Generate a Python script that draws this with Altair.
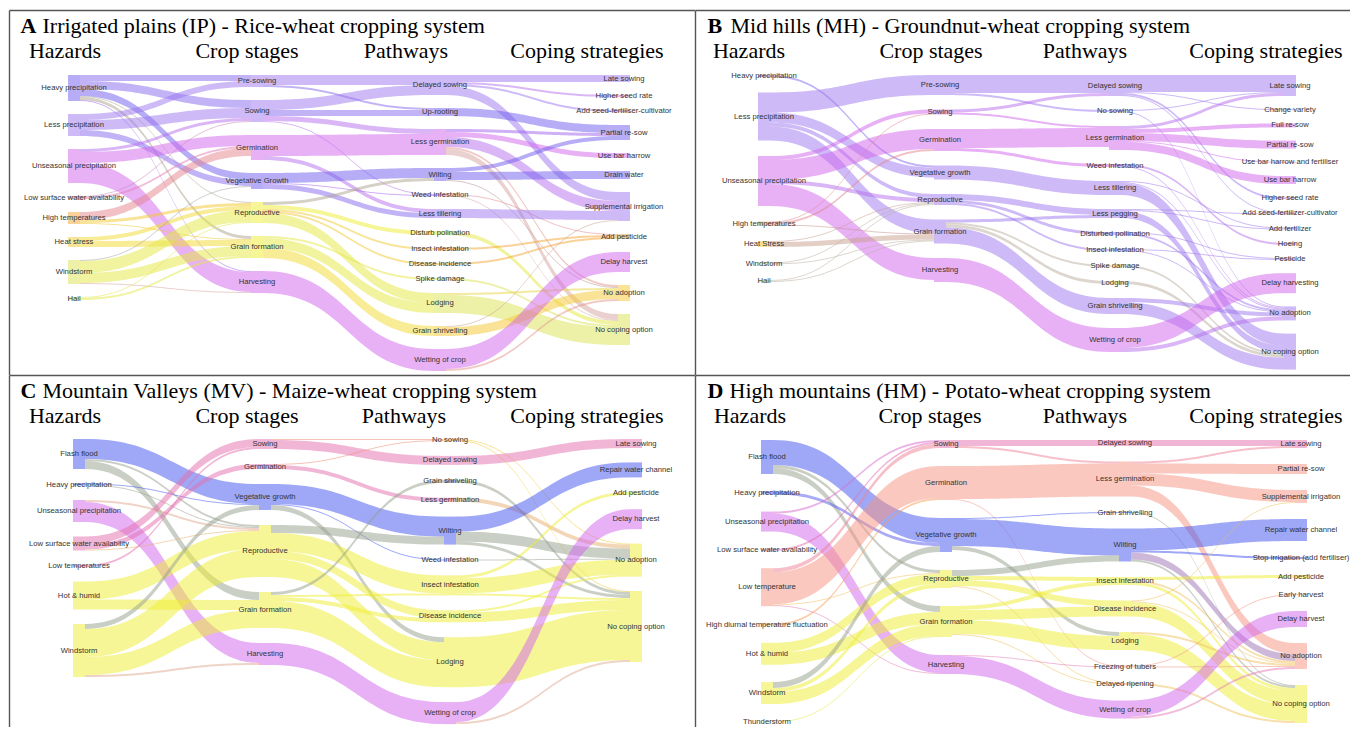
import altair as alt
import pandas as pd
import numpy as np
from collections import defaultdict

PALETTE = {
    "blue": "#4052ed", "bviolet": "#6d5bed", "violet": "#9b76ed", "pviolet": "#d164ed",
    "pink": "#e46ead", "salmon": "#f69280", "orange": "#f6a42e", "gold": "#f6c82e",
    "yellow": "#eded2e", "ygreen": "#dbe452",
}
HEADERS = ["Hazards", "Crop stages", "Pathways", "Coping strategies"]

# ======================= A =======================
A_letter = "A"
A_title = "Irrigated plains (IP) - Rice-wheat cropping system"
A_hazards = ["Heavy precipitation", "Less precipitation", "Unseasonal precipitation",
             "Low surface water availability", "High temperatures", "Heat stress", "Windstorm", "Hail"]
A_hazard_colors = ["bviolet", "violet", "pviolet", "salmon", "orange", "gold", "ygreen", "ygreen"]
A_stages = ["Pre-sowing", "Sowing", "Germination", "Vegetative Growth", "Reproductive",
            "Grain formation", "Harvesting"]
A_stage_colors = ["violet", "violet", "pviolet", "bviolet", "yellow", "yellow", "pviolet"]
A_pathways = ["Delayed sowing", "Up-rooting", "Less germination", "Wilting", "Weed infestation",
              "Less tillering", "Disturb polination", "Insect infestation", "Disease incidence",
              "Spike damage", "Lodging", "Grain shrivelling", "Wetting of crop"]
A_pathway_colors = ["violet", "bviolet", "pviolet", "bviolet", "pviolet", "violet", "yellow",
                    "orange", "orange", "ygreen", "ygreen", "gold", "pviolet"]
A_strategies = ["Late sowing", "Higher seed rate", "Add seed-fertiliser-cultivator", "Partial re-sow",
                "Use bar harrow", "Drain water", "Supplemental irrigation", "Add pesticide",
                "Delay harvest", "No adoption", "No coping option"]
A_strategy_colors = ["violet", "pviolet", "violet", "bviolet", "pviolet", "bviolet", "violet",
                     "orange", "pviolet", "gold", "ygreen"]
A_hazard_stage = [
    ("Heavy precipitation", "Pre-sowing", 6), ("Heavy precipitation", "Sowing", 8),
    ("Heavy precipitation", "Vegetative Growth", 7), ("Heavy precipitation", "Reproductive", 1),
    ("Heavy precipitation", "Grain formation", 3), ("Heavy precipitation", "Harvesting", 1),
    ("Less precipitation", "Pre-sowing", 6), ("Less precipitation", "Sowing", 10),
    ("Less precipitation", "Vegetative Growth", 6),
    ("Unseasonal precipitation", "Sowing", 3), ("Unseasonal precipitation", "Germination", 11),
    ("Unseasonal precipitation", "Harvesting", 20),
    ("Low surface water availability", "Sowing", 1), ("Low surface water availability", "Germination", 2),
    ("High temperatures", "Germination", 8), ("High temperatures", "Reproductive", 3),
    ("High temperatures", "Grain formation", 1),
    ("Heat stress", "Reproductive", 4), ("Heat stress", "Grain formation", 6),
    ("Windstorm", "Vegetative Growth", 1), ("Windstorm", "Reproductive", 12),
    ("Windstorm", "Grain formation", 10), ("Windstorm", "Harvesting", 1),
    ("Hail", "Reproductive", 1), ("Hail", "Grain formation", 2),
]
A_stage_pathway = [
    ("Pre-sowing", "Delayed sowing", 10), ("Pre-sowing", "Up-rooting", 2),
    ("Sowing", "Delayed sowing", 10), ("Sowing", "Up-rooting", 6), ("Sowing", "Less germination", 5),
    ("Sowing", "Weed infestation", 1),
    ("Germination", "Less germination", 21), ("Germination", "Less tillering", 4),
    ("Vegetative Growth", "Wilting", 10), ("Vegetative Growth", "Weed infestation", 1),
    ("Vegetative Growth", "Less tillering", 5),
    ("Reproductive", "Wilting", 3), ("Reproductive", "Disturb polination", 4),
    ("Reproductive", "Insect infestation", 2), ("Reproductive", "Disease incidence", 2),
    ("Reproductive", "Lodging", 10),
    ("Grain formation", "Spike damage", 2), ("Grain formation", "Lodging", 10),
    ("Grain formation", "Grain shrivelling", 10),
    ("Harvesting", "Wetting of crop", 22),
]
A_pathway_strategy = [
    ("Delayed sowing", "Late sowing", 7), ("Delayed sowing", "Higher seed rate", 2),
    ("Delayed sowing", "Add seed-fertiliser-cultivator", 2), ("Delayed sowing", "Supplemental irrigation", 9),
    ("Up-rooting", "Partial re-sow", 8),
    ("Less germination", "Partial re-sow", 3), ("Less germination", "Use bar harrow", 5),
    ("Less germination", "Supplemental irrigation", 10), ("Less germination", "No adoption", 2),
    ("Less germination", "No coping option", 6),
    ("Wilting", "Partial re-sow", 4), ("Wilting", "Drain water", 8), ("Wilting", "No adoption", 1),
    ("Weed infestation", "Add pesticide", 1), ("Weed infestation", "No coping option", 1),
    ("Less tillering", "Supplemental irrigation", 9),
    ("Disturb polination", "No coping option", 4),
    ("Insect infestation", "Add pesticide", 2), ("Disease incidence", "Add pesticide", 2),
    ("Spike damage", "No coping option", 2),
    ("Lodging", "No adoption", 2), ("Lodging", "No coping option", 18),
    ("Grain shrivelling", "Supplemental irrigation", 1), ("Grain shrivelling", "No adoption", 9),
    ("Wetting of crop", "Delay harvest", 20), ("Wetting of crop", "No adoption", 2),
]

# ======================= B =======================
B_letter = "B"
B_title = "Mid hills (MH) - Groundnut-wheat cropping system"
B_hazards = ["Heavy precipitation", "Less precipitation", "Unseasonal precipitation",
             "High temperatures", "Heat Stress", "Windstorm", "Hail"]
B_hazard_colors = ["bviolet", "violet", "pviolet", "orange", "gold", "ygreen", "ygreen"]
B_stages = ["Pre-sowing", "Sowing", "Germination", "Vegetative growth", "Reproductive",
            "Grain formation", "Harvesting"]
B_stage_colors = ["violet", "pviolet", "pviolet", "violet", "violet", "violet", "pviolet"]
B_pathways = ["Delayed sowing", "No sowing", "Less germination", "Weed infestation", "Less tillering",
              "Less pegging", "Disturbed pollination", "Insect infestation", "Spike damage", "Lodging",
              "Grain shrivelling", "Wetting of crop"]
B_pathway_colors = ["violet", "violet", "pviolet", "pviolet", "violet", "violet", "violet", "violet",
                    "ygreen", "ygreen", "violet", "pviolet"]
B_strategies = ["Late sowing", "Change variety", "Full re-sow", "Partial re-sow",
                "Use bar harrow and fertiliser", "Use bar harrow", "Higher seed rate",
                "Add seed-fertilizer-cultivator", "Add fertilizer", "Hoeing", "Pesticide",
                "Delay harvesting", "No adoption", "No coping option"]
B_strategy_colors = ["violet", "violet", "pviolet", "pviolet", "pviolet", "pviolet", "violet", "violet",
                     "violet", "violet", "violet", "pviolet", "violet", "violet"]
B_hazard_stage = [
    ("Heavy precipitation", "Vegetative growth", 2),
    ("Less precipitation", "Pre-sowing", 20), ("Less precipitation", "Vegetative growth", 10),
    ("Less precipitation", "Reproductive", 4), ("Less precipitation", "Grain formation", 14),
    ("Unseasonal precipitation", "Sowing", 4), ("Unseasonal precipitation", "Germination", 20),
    ("Unseasonal precipitation", "Reproductive", 4), ("Unseasonal precipitation", "Harvesting", 22),
    ("High temperatures", "Sowing", 1), ("High temperatures", "Germination", 2),
    ("High temperatures", "Grain formation", 1),
    ("Heat Stress", "Reproductive", 1), ("Heat Stress", "Grain formation", 5),
    ("Windstorm", "Reproductive", 1), ("Windstorm", "Grain formation", 1),
    ("Hail", "Reproductive", 1), ("Hail", "Grain formation", 1),
]
B_stage_pathway = [
    ("Pre-sowing", "Delayed sowing", 18), ("Pre-sowing", "No sowing", 2),
    ("Sowing", "Delayed sowing", 3), ("Sowing", "Less germination", 2),
    ("Germination", "Less germination", 19), ("Germination", "Weed infestation", 3),
    ("Vegetative growth", "Less tillering", 14),
    ("Reproductive", "Less pegging", 6), ("Reproductive", "Disturbed pollination", 3),
    ("Reproductive", "Insect infestation", 2),
    ("Grain formation", "Less pegging", 3), ("Grain formation", "Spike damage", 2),
    ("Grain formation", "Lodging", 3), ("Grain formation", "Grain shrivelling", 16),
    ("Harvesting", "Wetting of crop", 24),
]
B_pathway_strategy = [
    ("Delayed sowing", "Late sowing", 17), ("Delayed sowing", "Change variety", 1),
    ("Delayed sowing", "Higher seed rate", 2), ("Delayed sowing", "Add seed-fertilizer-cultivator", 1),
    ("No sowing", "Late sowing", 1), ("No sowing", "No adoption", 1),
    ("Less germination", "Late sowing", 3), ("Less germination", "Full re-sow", 4),
    ("Less germination", "Partial re-sow", 8), ("Less germination", "Use bar harrow and fertiliser", 1),
    ("Less germination", "Use bar harrow", 8),
    ("Weed infestation", "Hoeing", 2), ("Weed infestation", "No adoption", 1),
    ("Less tillering", "Add fertilizer", 1), ("Less tillering", "No adoption", 1),
    ("Less tillering", "No coping option", 12),
    ("Less pegging", "Add seed-fertilizer-cultivator", 1), ("Less pegging", "Add fertilizer", 1),
    ("Less pegging", "No coping option", 7),
    ("Disturbed pollination", "Pesticide", 1), ("Disturbed pollination", "No adoption", 2),
    ("Insect infestation", "Pesticide", 1), ("Insect infestation", "No adoption", 1),
    ("Spike damage", "No coping option", 2), ("Lodging", "No coping option", 3),
    ("Grain shrivelling", "No adoption", 4), ("Grain shrivelling", "No coping option", 12),
    ("Wetting of crop", "Delay harvesting", 20), ("Wetting of crop", "No adoption", 4),
]

# ======================= C =======================
C_letter = "C"
C_title = "Mountain Valleys (MV) - Maize-wheat cropping system"
C_hazards = ["Flash flood", "Heavy precipitation", "Unseasonal precipitation",
             "Low surface water availability", "Low temperatures", "Hot & humid", "Windstorm"]
C_hazard_colors = ["blue", "blue", "pviolet", "pink", "pink", "yellow", "yellow"]
C_stages = ["Sowing", "Germination", "Vegetative growth", "Reproductive", "Grain formation", "Harvesting"]
C_stage_colors = ["pink", "pink", "blue", "yellow", "yellow", "pviolet"]
C_pathways = ["No sowing", "Delayed sowing", "Grain shriveling", "Less germination", "Wilting",
              "Weed infestation", "Insect infestation", "Disease incidence", "Lodging", "Wetting of crop"]
C_pathway_colors = ["orange", "pink", "blue", "pink", "blue", "blue", "yellow", "yellow", "yellow", "pviolet"]
C_strategies = ["Late sowing", "Repair water channel", "Add pesticide", "Delay harvest",
                "No adoption", "No coping option"]
C_strategy_colors = ["pink", "blue", "yellow", "pviolet", "yellow", "yellow"]
C_hazard_stage = [
    ("Flash flood", "Vegetative growth", 20), ("Flash flood", "Reproductive", 2),
    ("Flash flood", "Grain formation", 8),
    ("Heavy precipitation", "Vegetative growth", 1), ("Heavy precipitation", "Reproductive", 1),
    ("Unseasonal precipitation", "Reproductive", 2), ("Unseasonal precipitation", "Harvesting", 20),
    ("Low surface water availability", "Sowing", 8), ("Low surface water availability", "Germination", 5),
    ("Low surface water availability", "Reproductive", 1),
    ("Low temperatures", "Sowing", 2),
    ("Hot & humid", "Reproductive", 18), ("Hot & humid", "Grain formation", 10),
    ("Windstorm", "Vegetative growth", 5), ("Windstorm", "Reproductive", 28),
    ("Windstorm", "Grain formation", 18), ("Windstorm", "Harvesting", 2),
]
C_stage_pathway = [
    ("Sowing", "No sowing", 1), ("Sowing", "Delayed sowing", 9),
    ("Germination", "No sowing", 1), ("Germination", "Less germination", 4),
    ("Vegetative growth", "Wilting", 20), ("Vegetative growth", "Weed infestation", 1),
    ("Vegetative growth", "Lodging", 5),
    ("Reproductive", "Wilting", 8), ("Reproductive", "Insect infestation", 18),
    ("Reproductive", "Disease incidence", 8), ("Reproductive", "Lodging", 18),
    ("Grain formation", "Grain shriveling", 3), ("Grain formation", "Insect infestation", 2),
    ("Grain formation", "Disease incidence", 4), ("Grain formation", "Lodging", 27),
    ("Harvesting", "Wetting of crop", 22),
]
C_pathway_strategy = [
    ("No sowing", "No adoption", 1), ("No sowing", "No coping option", 1),
    ("Delayed sowing", "Late sowing", 9),
    ("Grain shriveling", "No coping option", 3),
    ("Less germination", "No adoption", 4),
    ("Wilting", "Repair water channel", 15), ("Wilting", "No adoption", 10),
    ("Wilting", "No coping option", 3),
    ("Weed infestation", "No adoption", 1),
    ("Insect infestation", "Add pesticide", 3), ("Insect infestation", "No adoption", 15),
    ("Insect infestation", "No coping option", 2),
    ("Disease incidence", "No adoption", 2), ("Disease incidence", "No coping option", 10),
    ("Lodging", "No coping option", 50),
    ("Wetting of crop", "Delay harvest", 20), ("Wetting of crop", "No coping option", 2),
]

# ======================= D =======================
D_letter = "D"
D_title = "High mountains (HM) - Potato-wheat cropping system"
D_hazards = ["Flash flood", "Heavy precipitation", "Unseasonal precipitation",
             "Low surface water availability", "Low temperature", "High diurnal temperature fluctuation",
             "Hot & humid", "Windstorm", "Thunderstorm"]
D_hazard_colors = ["blue", "bviolet", "pviolet", "pink", "salmon", "orange", "yellow", "yellow", "ygreen"]
D_stages = ["Sowing", "Germination", "Vegetative growth", "Reproductive", "Grain formation", "Harvesting"]
D_stage_colors = ["pink", "salmon", "blue", "yellow", "yellow", "pviolet"]
D_pathways = ["Delayed sowing", "Less germination", "Grain shrivelling", "Wilting", "Insect infestation",
              "Disease incidence", "Lodging", "Freezing of tubers", "Delayed ripening", "Wetting of crop"]
D_pathway_colors = ["pink", "salmon", "blue", "blue", "yellow", "yellow", "yellow", "salmon", "salmon",
                    "pviolet"]
D_strategies = ["Late sowing", "Partial re-sow", "Supplemental irrigation", "Repair water channel",
                "Stop irrigation (add fertiliser)", "Add pesticide", "Early harvest", "Delay harvest",
                "No adoption", "No coping option"]
D_strategy_colors = ["pink", "salmon", "salmon", "blue", "blue", "yellow", "salmon", "pviolet",
                     "salmon", "yellow"]
D_hazard_stage = [
    ("Flash flood", "Vegetative growth", 25), ("Flash flood", "Reproductive", 3),
    ("Flash flood", "Grain formation", 6),
    ("Heavy precipitation", "Vegetative growth", 3),
    ("Unseasonal precipitation", "Sowing", 2), ("Unseasonal precipitation", "Harvesting", 18),
    ("Low surface water availability", "Sowing", 2),
    ("Low temperature", "Sowing", 4), ("Low temperature", "Germination", 32),
    ("Low temperature", "Reproductive", 1), ("Low temperature", "Harvesting", 1),
    ("High diurnal temperature fluctuation", "Germination", 2),
    ("Hot & humid", "Reproductive", 10), ("Hot & humid", "Grain formation", 12),
    ("Windstorm", "Vegetative growth", 6), ("Windstorm", "Reproductive", 4),
    ("Windstorm", "Grain formation", 12),
    ("Thunderstorm", "Grain formation", 1),
]
D_stage_pathway = [
    ("Sowing", "Delayed sowing", 6), ("Sowing", "Less germination", 2),
    ("Germination", "Less germination", 33), ("Germination", "Freezing of tubers", 1),
    ("Vegetative growth", "Grain shrivelling", 1), ("Vegetative growth", "Wilting", 27),
    ("Vegetative growth", "Lodging", 4),
    ("Reproductive", "Wilting", 6), ("Reproductive", "Insect infestation", 4),
    ("Reproductive", "Disease incidence", 6), ("Reproductive", "Delayed ripening", 1),
    ("Grain formation", "Insect infestation", 4), ("Grain formation", "Disease incidence", 10),
    ("Grain formation", "Lodging", 14), ("Grain formation", "Delayed ripening", 1),
    ("Harvesting", "Wetting of crop", 18), ("Harvesting", "Freezing of tubers", 1),
]
D_pathway_strategy = [
    ("Delayed sowing", "Late sowing", 6),
    ("Less germination", "Late sowing", 2), ("Less germination", "Partial re-sow", 10),
    ("Less germination", "Supplemental irrigation", 12), ("Less germination", "No adoption", 11),
    ("Grain shrivelling", "No coping option", 1),
    ("Wilting", "Repair water channel", 22), ("Wilting", "Stop irrigation (add fertiliser)", 2),
    ("Wilting", "No adoption", 7), ("Wilting", "No coping option", 2),
    ("Insect infestation", "Add pesticide", 3), ("Insect infestation", "No adoption", 2),
    ("Insect infestation", "No coping option", 3),
    ("Disease incidence", "Supplemental irrigation", 1), ("Disease incidence", "No adoption", 1),
    ("Disease incidence", "No coping option", 14),
    ("Lodging", "No adoption", 2), ("Lodging", "No coping option", 16),
    ("Freezing of tubers", "Early harvest", 1), ("Freezing of tubers", "No adoption", 1),
    ("Delayed ripening", "No coping option", 2),
    ("Wetting of crop", "Delay harvest", 16), ("Wetting of crop", "No adoption", 2),
]

# ---------------- layout parameters (pixels inside each panel) ----------------
LAYOUT = {
    "A": dict(width=687, height=367, col_x=[66, 249, 432, 616], top=67, pads=[13, 13, 13, 13],
              header_x=[57, 239, 398, 579], title_y=24.5, header_y=50, rest_x=34.5,
              frame_x=1.5, frame_y=2.5),
    "B": dict(width=655, height=367, col_x=[69, 245, 420, 595], top=67, pads=[15.5, 14.5, 14, 13.2],
              header_x=[54, 236, 390, 571], title_y=24.5, header_y=50, rest_x=35.5,
              frame_x=0.5, frame_y=2.5),
    "C": dict(width=687, height=352, col_x=[71, 257, 442, 628], top=64, pads=[14.5, 15, 14.9, 14.4],
              header_x=[57, 239, 396, 579], title_y=23, header_y=47.5, rest_x=34.5,
              frame_x=1.5, frame_y=0.5),
    "D": dict(width=655, height=352, col_x=[72, 251, 430, 606], top=65, pads=[17.3, 18, 15.5, 16],
              header_x=[55, 235, 390, 571], title_y=23, header_y=47.5, rest_x=34.5,
              frame_x=0.5, frame_y=0.5),
}
NODE_W = 12
N_PTS = 40


def mix(c1, c2):
    a = [int(c1[i:i + 2], 16) for i in (1, 3, 5)]
    b = [int(c2[i:i + 2], 16) for i in (1, 3, 5)]
    return "#" + "".join(f"{(x + y) // 2:02x}" for x, y in zip(a, b))


def sankey_frames(columns, colors, link_sets, L):
    nodes = {}
    for c, (names, cols) in enumerate(zip(columns, colors)):
        for name, cn in zip(names, cols):
            nodes[(c, name)] = {"name": name, "color": PALETTE[cn], "in": 0.0, "out": 0.0}
    for k, links in enumerate(link_sets):
        for s, t, v in links:
            nodes[(k, s)]["out"] += v
            nodes[(k + 1, t)]["in"] += v
    for c, names in enumerate(columns):
        y = L["top"]
        for name in names:
            n = nodes[(c, name)]
            h = max(n["in"], n["out"])
            n["y0"], n["y1"] = y, y + h
            n["x0"], n["x1"] = L["col_x"][c] - NODE_W / 2, L["col_x"][c] + NODE_W / 2
            y += h + L["pads"][c]
    rows = []
    t = np.linspace(0, 1, N_PTS)
    fx = 1.5 * t * (1 - t) + t ** 3
    fy = 3 * t ** 2 - 2 * t ** 3
    lid = 0
    for k, links in enumerate(link_sets):
        items = [dict(s=nodes[(k, s)], t=nodes[(k + 1, tt)], v=v) for s, tt, v in links]
        by_src, by_tgt = defaultdict(list), defaultdict(list)
        for it in items:
            by_src[it["s"]["name"]].append(it)
            by_tgt[it["t"]["name"]].append(it)
        for grp in by_src.values():
            grp.sort(key=lambda i: i["t"]["y0"])
            y = grp[0]["s"]["y0"]
            for i in grp:
                i["sy"] = y
                y += i["v"]
        for grp in by_tgt.values():
            grp.sort(key=lambda i: i["s"]["y0"])
            y = grp[0]["t"]["y0"]
            for i in grp:
                i["ty"] = y
                y += i["v"]
        for i in items:
            x0, x1 = i["s"]["x1"], i["t"]["x0"]
            xs = x0 + (x1 - x0) * fx
            ys = i["sy"] + (i["ty"] - i["sy"]) * fy
            col = mix(i["s"]["color"], i["t"]["color"])
            for xx, yy in zip(xs, ys):
                rows.append({"link": lid, "x": float(xx), "y": float(yy), "y2": float(yy + i["v"]),
                             "color": col})
            lid += 1
    links_df = pd.DataFrame(rows)
    nodes_df = pd.DataFrame([{
        "name": n["name"], "x0": n["x0"], "x1": n["x1"], "y0": n["y0"], "y1": n["y1"],
        "cx": (n["x0"] + n["x1"]) / 2, "cy": (n["y0"] + n["y1"]) / 2, "color": n["color"]}
        for n in nodes.values()])
    return links_df, nodes_df


def panel(key, letter, title, columns, colors, link_sets):
    L = LAYOUT[key]
    W, H = L["width"], L["height"]
    xs = alt.Scale(domain=[0, W], nice=False, zero=False)
    ys = alt.Scale(domain=[0, H], nice=False, zero=False, reverse=True)
    links_df, nodes_df = sankey_frames(columns, colors, link_sets, L)

    link_layer = alt.Chart(links_df).mark_area(opacity=0.5).encode(
        x=alt.X("x:Q", scale=xs, axis=None),
        y=alt.Y("y:Q", scale=ys, axis=None, stack=None),
        y2="y2:Q",
        color=alt.Color("color:N", scale=None),
        detail="link:N",
    )
    node_layer = alt.Chart(nodes_df).mark_rect(opacity=0.5).encode(
        x=alt.X("x0:Q", scale=xs, axis=None), x2="x1:Q",
        y=alt.Y("y0:Q", scale=ys, axis=None), y2="y1:Q",
        color=alt.Color("color:N", scale=None),
    )
    label_layer = alt.Chart(nodes_df).mark_text(
        font="Liberation Sans", fontSize=7.7, color="#333333", align="center", baseline="middle"
    ).encode(
        x=alt.X("cx:Q", scale=xs, axis=None), y=alt.Y("cy:Q", scale=ys, axis=None), text="name:N")

    head_df = pd.DataFrame({"x": L["header_x"], "y": [L["header_y"]] * 4, "t": HEADERS})
    head_layer = alt.Chart(head_df).mark_text(
        font="Liberation Serif", fontSize=22, color="#000000", align="center", baseline="alphabetic"
    ).encode(x=alt.X("x:Q", scale=xs, axis=None), y=alt.Y("y:Q", scale=ys, axis=None), text="t:N")

    letter_df = pd.DataFrame({"x": [12.5], "y": [L["title_y"]], "t": [letter]})
    letter_layer = alt.Chart(letter_df).mark_text(
        font="Liberation Serif", fontSize=22, fontWeight="bold", color="#000000", align="left",
        baseline="alphabetic"
    ).encode(x=alt.X("x:Q", scale=xs, axis=None), y=alt.Y("y:Q", scale=ys, axis=None), text="t:N")
    rest_df = pd.DataFrame({"x": [L["rest_x"]], "y": [L["title_y"]], "t": [title]})
    rest_layer = alt.Chart(rest_df).mark_text(
        font="Liberation Serif", fontSize=22, color="#000000", align="left", baseline="alphabetic"
    ).encode(x=alt.X("x:Q", scale=xs, axis=None), y=alt.Y("y:Q", scale=ys, axis=None), text="t:N")

    one = pd.DataFrame({"a": [0]})
    vrule = alt.Chart(one).mark_rule(color="#555555", strokeWidth=1.4).encode(
        x=alt.value(L["frame_x"]), y=alt.value(L["frame_y"]), y2=alt.value(H))
    hrule = alt.Chart(one).mark_rule(color="#555555", strokeWidth=1.4).encode(
        y=alt.value(L["frame_y"]), x=alt.value(L["frame_x"]), x2=alt.value(W))

    return alt.layer(link_layer, node_layer, label_layer, head_layer, letter_layer, rest_layer,
                     vrule, hrule).properties(width=W, height=H)


pA = panel("A", A_letter, A_title, [A_hazards, A_stages, A_pathways, A_strategies],
           [A_hazard_colors, A_stage_colors, A_pathway_colors, A_strategy_colors],
           [A_hazard_stage, A_stage_pathway, A_pathway_strategy])
pB = panel("B", B_letter, B_title, [B_hazards, B_stages, B_pathways, B_strategies],
           [B_hazard_colors, B_stage_colors, B_pathway_colors, B_strategy_colors],
           [B_hazard_stage, B_stage_pathway, B_pathway_strategy])
pC = panel("C", C_letter, C_title, [C_hazards, C_stages, C_pathways, C_strategies],
           [C_hazard_colors, C_stage_colors, C_pathway_colors, C_strategy_colors],
           [C_hazard_stage, C_stage_pathway, C_pathway_strategy])
pD = panel("D", D_letter, D_title, [D_hazards, D_stages, D_pathways, D_strategies],
           [D_hazard_colors, D_stage_colors, D_pathway_colors, D_strategy_colors],
           [D_hazard_stage, D_stage_pathway, D_pathway_strategy])

chart = alt.concat(pA, pB, pC, pD, columns=2, spacing=0, bounds="flush").properties(
    padding=0, background="white"
).configure_view(strokeWidth=0, strokeOpacity=0).configure_concat(spacing=0)

chart.save("out.html", embed_options={"renderer": "svg", "actions": False})
